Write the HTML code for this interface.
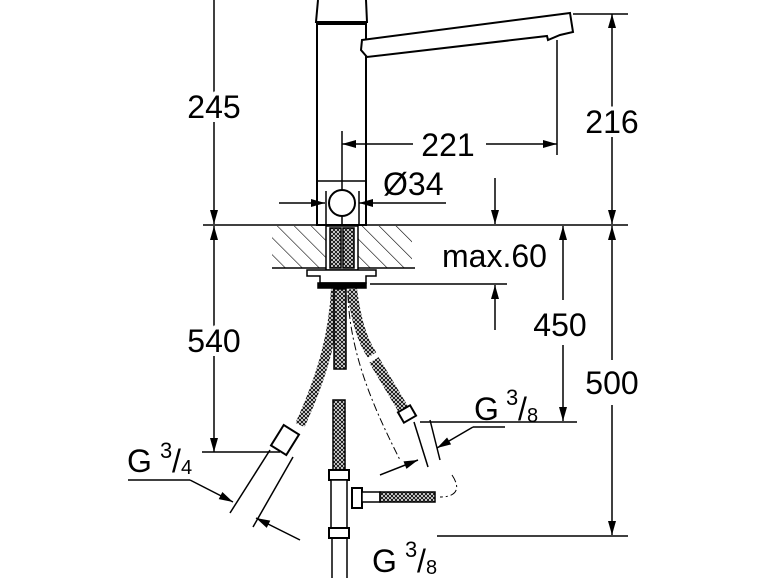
<!DOCTYPE html>
<html><head><style>
html,body{margin:0;padding:0;background:#fff;}
svg{display:block;}
text{font-family:"Liberation Sans",sans-serif;fill:#000;}
</style></head><body>
<svg width="770" height="578" viewBox="0 0 770 578" xmlns="http://www.w3.org/2000/svg">
<defs>
<marker id="a" viewBox="0 0 14 10" refX="14" refY="5" markerWidth="15" markerHeight="10" orient="auto-start-reverse" markerUnits="userSpaceOnUse"><path d="M0,1 L14,5 L0,9 z" fill="#000"/></marker>
<pattern id="h" width="12" height="12" patternUnits="userSpaceOnUse" patternTransform="rotate(-45)"><line x1="0" y1="0" x2="0" y2="12" stroke="#000" stroke-width="1.2"/></pattern>
<pattern id="b" width="4" height="4" patternUnits="userSpaceOnUse"><rect width="4" height="4" fill="#fff"/><path d="M0,0 L4,4 M4,0 L0,4" stroke="#111" stroke-width="1"/></pattern>
</defs>
<g stroke="#000" fill="none" stroke-width="1.5">
<line x1="214" y1="0" x2="214" y2="224" marker-end="url(#a)"/>
<line x1="214" y1="226" x2="214" y2="452" marker-start="url(#a)" marker-end="url(#a)"/>
<line x1="202" y1="452" x2="280" y2="452"/>
<line x1="203" y1="225" x2="628" y2="225"/>
<rect x="272" y="226" width="140" height="42" fill="url(#h)" stroke="none"/>
<line x1="272" y1="268" x2="415" y2="268"/>
<rect x="326" y="226" width="32" height="44" fill="#fff" stroke="#000"/>
<rect x="330" y="228" width="11" height="40" fill="url(#b)"/>
<rect x="343" y="228" width="11" height="40" fill="url(#b)"/>
<path d="M307,270 H376 V276 H366 V283 H320 V276 H307 Z" fill="#fff"/>
<rect x="318" y="283" width="48" height="5" fill="#000"/>
<path d="M318,0 L316,22 H367 L366,0" stroke-width="2"/>
<rect x="317" y="24" width="49" height="201" fill="#fff" stroke-width="2"/>
<line x1="317" y1="181" x2="366" y2="181"/>
<path d="M362,40 L570,13 L573,32 L560,35 L548,40 L547,36 L367,57 L361,50 Z" fill="#fff" stroke-width="2"/>
<line x1="342" y1="131" x2="342" y2="225"/>
<line x1="557" y1="40" x2="557" y2="155"/>
<line x1="342" y1="144" x2="413" y2="144" marker-start="url(#a)"/>
<line x1="486" y1="144" x2="557" y2="144" marker-end="url(#a)"/>
<circle cx="342" cy="203" r="13" fill="#fff" stroke-width="2"/>
<line x1="326" y1="191" x2="326" y2="225"/><line x1="359" y1="191" x2="359" y2="225"/>
<line x1="279" y1="203" x2="325" y2="203" marker-end="url(#a)"/>
<line x1="446" y1="203" x2="359" y2="203" marker-end="url(#a)"/>
<line x1="573" y1="14" x2="628" y2="14"/>
<line x1="612" y1="14" x2="612" y2="224" marker-start="url(#a)" marker-end="url(#a)"/>
<line x1="495" y1="178" x2="495" y2="224" marker-end="url(#a)"/>
<line x1="495" y1="330" x2="495" y2="285" marker-end="url(#a)"/>
<line x1="370" y1="284" x2="507" y2="284"/>
<line x1="563" y1="226" x2="563" y2="300" marker-start="url(#a)"/>
<line x1="563" y1="345" x2="563" y2="421" marker-end="url(#a)"/>
<line x1="420" y1="422" x2="577" y2="422"/>
<line x1="612" y1="226" x2="612" y2="360" marker-start="url(#a)"/>
<line x1="612" y1="405" x2="612" y2="535" marker-end="url(#a)"/>
<line x1="437" y1="536" x2="628" y2="536"/>
<path d="M336,289 C334,330 325,370 300,425" stroke="url(#b)" stroke-width="10"/>
<path d="M352,289 C356,320 362,340 372,355" stroke="url(#b)" stroke-width="10"/>
<path d="M374,360 L405,412" stroke="url(#b)" stroke-width="11"/>
<rect x="334" y="289" width="12" height="80" fill="url(#b)"/>
<rect x="333" y="400" width="12" height="70" fill="url(#b)"/>
<g transform="translate(285,440) rotate(32)"><rect x="-9" y="-12" width="18" height="24" fill="#fff" stroke-width="2"/></g>
<g transform="translate(407,414) rotate(-30)"><rect x="-7" y="-6" width="14" height="12" fill="#fff" stroke-width="2"/></g>
<line x1="270" y1="450" x2="230" y2="513"/><line x1="293" y1="457" x2="253" y2="527"/>
<line x1="414" y1="422" x2="428" y2="467"/><line x1="430" y1="420" x2="440" y2="460"/>
<path d="M348,295 C350,360 380,420 400,460" stroke-dasharray="8,3,2,3" stroke-width="1"/>
<path d="M452,475 C462,490 455,497 440,497" stroke-dasharray="8,3,2,3" stroke-width="1"/>
<rect x="329" y="470" width="20" height="10" fill="#fff" stroke-width="2"/>
<rect x="331" y="480" width="16" height="48" fill="#fff"/>
<rect x="329" y="528" width="20" height="10" fill="#fff" stroke-width="2"/>
<rect x="352" y="488" width="10" height="20" fill="#fff" stroke-width="2"/>
<rect x="362" y="492" width="18" height="10" fill="#fff"/>
<rect x="380" y="492" width="55" height="10" fill="url(#b)"/>
<line x1="332" y1="538" x2="332" y2="578"/><line x1="347" y1="538" x2="347" y2="578"/>
<line x1="473" y1="427" x2="505" y2="427"/>
<line x1="473" y1="427" x2="437" y2="448" marker-end="url(#a)"/>
<line x1="380" y1="475" x2="418" y2="460" marker-end="url(#a)"/>
<line x1="128" y1="480" x2="190" y2="480"/>
<line x1="190" y1="480" x2="233" y2="502" marker-end="url(#a)"/>
<line x1="300" y1="540" x2="256" y2="518" marker-end="url(#a)"/>
</g>
<g font-size="32">
<text x="214" y="118" text-anchor="middle" stroke="#fff" stroke-width="8" paint-order="stroke">245</text>
<text x="214" y="352" text-anchor="middle" stroke="#fff" stroke-width="8" paint-order="stroke">540</text>
<text x="448" y="156" text-anchor="middle">221</text>
<text x="383" y="195">Ø34</text>
<text x="612" y="133" text-anchor="middle" stroke="#fff" stroke-width="8" paint-order="stroke">216</text>
<text x="442" y="267">max.60</text>
<text x="560" y="336" text-anchor="middle" stroke="#fff" stroke-width="8" paint-order="stroke">450</text>
<text x="612" y="394" text-anchor="middle" stroke="#fff" stroke-width="8" paint-order="stroke">500</text>
<text x="127" y="472">G</text><text x="160" y="458" font-size="22">3</text><text x="172" y="472">/</text><text x="181" y="474" font-size="20">4</text>
<text x="474" y="420">G</text><text x="506" y="405" font-size="22">3</text><text x="518" y="420">/</text><text x="527" y="422" font-size="20">8</text>
<text x="372" y="572">G</text><text x="405" y="557" font-size="22">3</text><text x="417" y="572">/</text><text x="426" y="574" font-size="20">8</text>
</g>
</svg>
</body></html>
